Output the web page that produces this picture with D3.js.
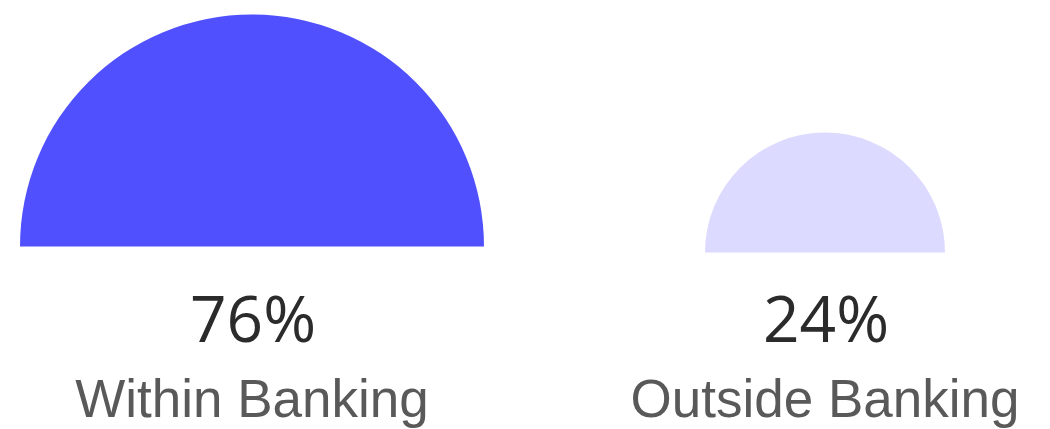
<!DOCTYPE html>
<html>
<head>
<meta charset="utf-8">
<script src="https://cdn.jsdelivr.net/npm/d3@7"></script>
<style>
  body { margin: 0; background: #fff; }
  svg { display: block; }
</style>
</head>
<body>
<svg id="chart" width="1050" height="429"></svg>
<script>
// chart data
const categories = ['Within Banking', 'Outside Banking']
const values = [76, 24]
const colors = ['#5050ff', '#dcdaff']

const svg = d3.select('#chart')

// horizontal placement of each half-disc
const xScale = d3.scalePoint()
  .domain(categories)
  .range([252, 825])

// radius grows with share
const rScale = d3.scaleLinear()
  .domain([24, 76])
  .range([120, 232])

const baseY = d3.scaleOrdinal()
  .domain(categories)
  .range([246.5, 252.5])

const arc = d3.arc()
  .innerRadius(0)
  .startAngle(-Math.PI / 2)
  .endAngle(Math.PI / 2)

const data = categories.map((c, i) => ({ name: c, value: values[i], color: colors[i] }))

const groups = svg.selectAll('.slice')
  .data(data)
  .enter().append('g')
  .attr('class', 'slice')
  .attr('transform', d => `translate(${xScale(d.name)},${baseY(d.name)})`)

groups.append('path')
  .attr('d', d => arc({ outerRadius: rScale(d.value) }))
  .attr('fill', d => d.color)

// percentage + label under each half-disc
svg.selectAll('.pct')
  .data(data)
  .enter().append('text')
  .attr('class', 'pct')
  .attr('x', d => xScale(d.name) + 1)
  .attr('y', 342)
  .attr('text-anchor', 'middle')
  .style('font-family', '"Open Sans", sans-serif')
  .style('font-size', '64px')
  .style('fill', '#2b2b2b')
  .text(d => `${d.value}%`)

svg.selectAll('.lbl')
  .data(data)
  .enter().append('text')
  .attr('class', 'lbl')
  .attr('x', d => xScale(d.name))
  .attr('y', 417)
  .attr('text-anchor', 'middle')
  .style('font-family', '"Liberation Sans", Arial, sans-serif')
  .style('font-size', '53px')
  .style('fill', '#595959')
  .text(d => d.name)
</script>
</body>
</html>
